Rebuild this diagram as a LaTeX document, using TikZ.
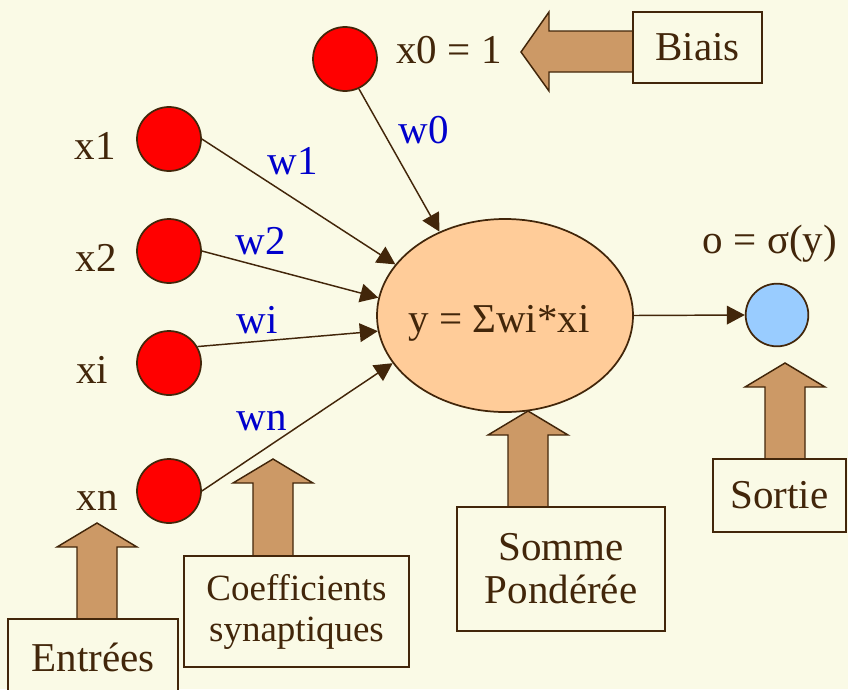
\documentclass[tikz,border=0pt]{standalone}
\usepackage{fontspec}
\setmainfont{Liberation Serif}
\usetikzlibrary{arrows.meta, shapes.geometric}

\definecolor{bgcream}{RGB}{250,250,230}
\definecolor{ink}{RGB}{66,38,10}
\definecolor{wblue}{RGB}{0,0,204}
\definecolor{neuronred}{RGB}{255,0,0}
\definecolor{sumfill}{RGB}{255,204,153}
\definecolor{outblue}{RGB}{153,204,255}
\definecolor{tanarrow}{RGB}{204,153,102}

\newcommand{\bigtxt}{\fontsize{30.75pt}{32.25pt}\selectfont}
\newcommand{\smalltxt}{\fontsize{27.75pt}{30.75pt}\selectfont}

% fat arrow pointing up: x, tip y, base y
\newcommand{\blockup}[3]{%
  \draw[blk] (#1,#2) -- (#1+40,#2+24) -- (#1+20,#2+24) -- (#1+20,#3)
    -- (#1-20,#3) -- (#1-20,#2+24) -- (#1-40,#2+24) -- cycle;}

\begin{document}
\begin{tikzpicture}[x=0.75pt, y=-0.75pt,
  inp/.style={circle, draw=ink, line width=1.3pt, fill=neuronred,
    minimum size=48pt, inner sep=0pt},
  outn/.style={inp, fill=outblue, minimum size=47pt},
  sumnode/.style={ellipse, draw=ink, line width=1.3pt, fill=sumfill,
    minimum width=192pt, minimum height=144.75pt, inner sep=0pt},
  lbl/.style={text=ink, font=\bigtxt, anchor=base, inner sep=0pt},
  wlbl/.style={lbl, text=wblue},
  box/.style={draw=ink, fill=bgcream, line width=1.1pt, inner sep=0pt,
    text=ink, font=\bigtxt, align=center},
  syn/.style={draw=ink, line width=1.1pt, -{Triangle[length=13.5pt, width=14pt]}},
  blk/.style={draw=ink, fill=tanarrow, line width=1.1pt, line join=miter}]
  \useasboundingbox (0,0) rectangle (848,689);
  \fill[bgcream] (0,0) rectangle (848,689);
  \clip (0,0) rectangle (848,689);

  % fat arrows
  \blockup{97}{523}{619}
  \blockup{273}{459}{556}
  \blockup{528}{411}{507}
  \blockup{785}{363}{459}
  \draw[blk] (521,52) -- (549,12) -- (549,31) -- (633,31) -- (633,72)
    -- (549,72) -- (549,91) -- cycle;

  % boxes
  \node[box, minimum width=96.75pt, minimum height=53.25pt] (biais) at (697.5,47.5) {Biais};
  \node[box, minimum width=99.75pt, minimum height=54.75pt] (sortie) at (779.5,495.5) {Sortie};
  \node[box, minimum width=127.5pt, minimum height=57pt] (entrees) at (93,657) {Entrées};
  \node[box, font=\smalltxt, minimum width=168.75pt, minimum height=83.25pt] (coef) at (296.5,611.5) {Coefficients\\synaptiques};
  \node[box, minimum width=156pt, minimum height=93pt] (somme) at (561,569) {Somme\\Pondérée};

  % neurons
  \node[inp] (x0) at (345,59) {};
  \node[inp] (x1) at (169,139) {};
  \node[inp] (x2) at (169,251) {};
  \node[inp] (xi) at (169,363) {};
  \node[inp] (xn) at (169,491) {};
  \node[sumnode] (sum) at (505,315.5) {};
  \node[outn] (out) at (777,315) {};

  % connections
  \draw[syn] (x0.-65) -- (sum.128);
  \draw[syn] (x1.east) -- (sum.155);
  \draw[syn] (x2.east) -- (sum.172);
  \draw[syn] (xi.30) -- (sum.187);
  \draw[syn] (xn.east) -- (sum.203);
  \draw[syn] (sum.east) -- (out.west);

  % texts
  \node[lbl] (lx0) at (449,63) {x0 = 1};
  \node[lbl] (lx1) at (95,159) {x1};
  \node[lbl] (lx2) at (96,271) {x2};
  \node[lbl] (lxi) at (92,383) {xi};
  \node[lbl] (lxn) at (97,510) {xn};
  \node[lbl] (lsum) at (499,332) {y = Σwi*xi};
  \node[lbl] (lout) at (770,253) {o = σ(y)};
  \node[wlbl] (w0) at (424,143) {w0};
  \node[wlbl] (w1) at (293,174) {w1};
  \node[wlbl] (w2) at (261,254) {w2};
  \node[wlbl] (wi) at (257,333) {wi};
  \node[wlbl] (wn) at (262,430) {wn};
\end{tikzpicture}
\end{document}
